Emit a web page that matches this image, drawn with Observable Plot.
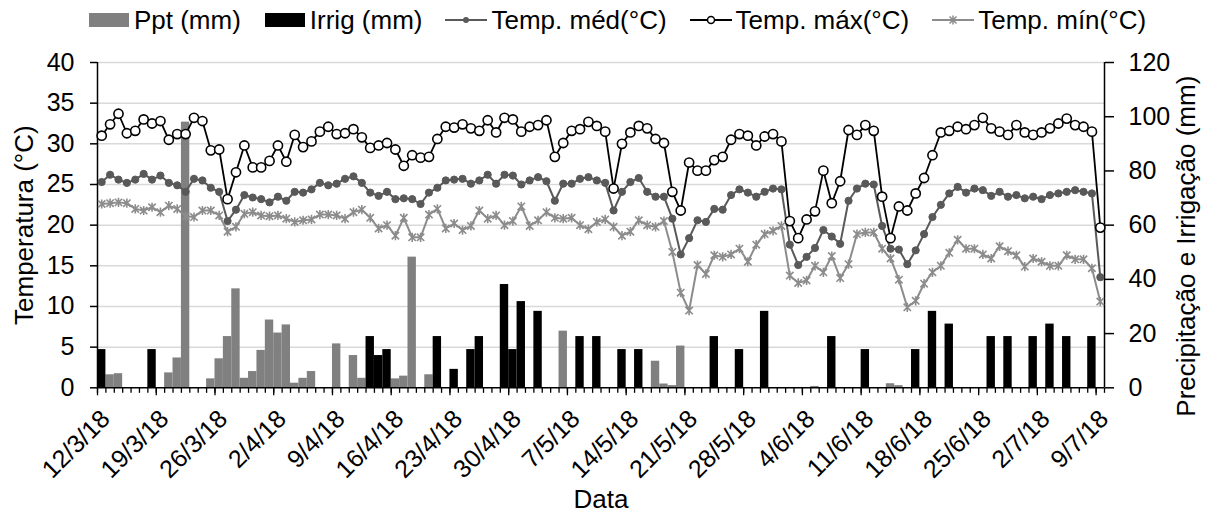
<!DOCTYPE html>
<html><head><meta charset="utf-8">
<script src="https://cdn.jsdelivr.net/npm/d3@7"></script>
<script src="https://cdn.jsdelivr.net/npm/@observablehq/plot@0.6"></script>
<style>
body{margin:0;background:#fff;font-family:"Liberation Sans",Arial,sans-serif;}
#legend{height:40px;display:flex;justify-content:center;align-items:center;gap:22px;font-size:26px;color:#000;width:1205px;padding-left:14px;}
.item{display:flex;align-items:center;gap:3px;white-space:nowrap;}
</style></head><body>
<div id="legend"></div>
<div id="chart"></div>
<script>
const tickLabels = ["12/3/18","19/3/18","26/3/18","2/4/18","9/4/18","16/4/18","23/4/18","30/4/18","7/5/18","14/5/18","21/5/18","28/5/18","4/6/18","11/6/18","18/6/18","25/6/18","2/7/18","9/7/18"];

const tmax = [31.0,32.4,33.7,31.3,31.6,33.0,32.5,32.8,30.5,31.2,
31.2,33.2,32.8,29.2,29.3,23.2,26.5,29.8,27.1,27.1,
27.9,29.8,27.8,31.1,29.6,30.3,31.5,32.1,31.2,31.3,
31.8,30.8,29.5,29.8,30.1,29.3,27.3,28.6,28.3,28.4,
30.6,32.1,32.0,32.4,31.9,31.6,32.9,31.4,33.2,33.0,
31.5,32.1,32.3,32.9,28.4,30.1,31.6,31.8,32.7,32.2,
31.5,24.5,30.0,31.4,32.2,31.9,30.6,30.1,24.1,21.8,
27.7,26.7,26.7,28.0,28.4,30.5,31.2,31.0,29.8,30.9,
31.2,30.3,20.5,18.4,20.7,21.7,26.7,22.7,25.4,31.7,
31.1,32.3,31.6,23.5,18.4,22.3,21.8,23.9,25.8,28.6,
31.4,31.6,32.1,31.8,32.3,33.2,31.9,31.5,31.1,32.3,
31.4,31.1,31.4,31.9,32.5,33.1,32.3,32.1,31.5,19.7];

const tmed = [25.3,26.2,25.6,25.2,25.6,26.3,25.6,26.1,25.2,24.9,
24.1,25.7,25.5,24.6,24.1,20.5,21.9,23.7,23.4,23.2,
22.8,23.5,23.0,24.1,24.0,24.4,25.2,24.9,25.1,25.7,
26.0,25.2,24.0,23.6,24.1,23.2,23.3,23.2,22.6,24.0,
24.6,25.5,25.6,25.7,25.1,25.5,26.2,25.1,26.2,26.1,
25.0,25.5,25.9,25.4,23.0,25.1,25.1,25.7,25.9,25.5,
25.2,21.8,24.1,25.3,25.8,24.1,23.5,23.5,20.8,16.4,
18.4,20.6,20.4,22.0,21.9,23.7,24.4,24.0,23.5,24.1,
24.5,24.4,17.6,15.1,16.1,17.2,19.4,18.6,17.7,23.0,
24.5,25.1,25.0,19.9,17.1,17.0,15.2,16.9,18.9,21.0,
22.5,23.9,24.7,24.0,24.5,24.3,23.6,24.1,23.5,23.7,
23.3,23.5,23.2,23.7,23.9,24.1,24.3,24.1,23.9,13.6];

const tmin = [22.6,22.7,22.8,22.7,22.0,21.8,22.2,21.6,22.4,22.0,
21.1,21.0,21.8,21.8,21.2,19.2,19.8,21.4,21.6,21.2,
21.1,21.2,20.8,20.4,20.6,20.7,21.3,21.3,21.2,20.8,
21.6,21.9,20.9,19.6,20.0,18.7,20.9,18.5,18.5,21.3,
22.0,19.6,20.2,19.4,19.9,21.8,20.8,21.2,20.0,20.5,
22.3,19.9,20.6,21.6,20.9,20.8,20.9,20.0,19.5,20.4,
20.7,19.8,18.7,19.2,20.6,20.0,19.8,20.5,16.7,11.7,
9.5,15.1,14.0,16.3,16.1,16.4,17.1,15.5,17.6,18.9,
19.3,19.9,13.8,12.9,13.2,15.0,14.2,16.2,13.5,15.2,
18.9,19.1,19.1,17.1,15.9,13.3,9.9,10.7,12.8,14.2,
15.0,16.6,18.2,17.1,17.1,16.4,15.9,17.4,16.8,16.3,
14.9,15.9,15.5,15.0,15.0,16.3,15.8,15.8,14.7,10.6];

const ppt = [0,4.8,5.2,0,0,0,0,0,5.5,11.0,
98,0,0,3.3,10.7,18.9,36.5,3.5,6.0,13.8,
25.0,20.2,23.2,1.7,3.5,6.0,0,0,16.2,0,
11.9,3.5,0,0,0,3.3,4.3,48.2,0,4.8,
0,0,0,0,0,0,0,0,0,0,
0,0,0,0,0,20.9,0,0,0,0,
0,0,0,0,0,0,9.8,1.4,0.8,15.4,
0,0,0,0,0,0,0,0,0,0,
0,0,0,0,0,0.5,0,0,0,0,
0,0,0,0,1.5,0.8,0,0,0,0,
0,0,0,0,0,0,0,0,0,0,
0,0,0,0,0,0,0,0,0,0];

const irrig = [14.1,0,0,0,0,0,14.1,0,0,0,
0,0,0,0,0,0,0,0,0,0,
0,0,0,0,0,0,0,0,0,0,
0,0,18.9,11.9,14.1,0,0,0,0,0,
18.9,0,6.8,0,14.1,18.9,0,0,38.1,14.1,
31.8,0,28.2,0,0,0,0,18.9,0,18.9,
0,0,14.1,0,14.1,0,0,0,0,0,
0,0,0,18.9,0,0,14.1,0,0,28.2,
0,0,0,0,0,0,0,18.9,0,0,
0,14.1,0,0,0,0,0,14.1,0,28.2,
0,23.5,0,0,0,0,18.9,0,18.9,0,
0,18.9,0,23.5,0,18.9,0,0,18.9,0];

const S = 3; // 120 mm on the right axis = 40 °C on the left
const days = d3.range(tmax.length).map(i => ({i, tmax: tmax[i], tmed: tmed[i], tmin: tmin[i], ppt: ppt[i], irrig: irrig[i]}));

const C_PPT = "#808080", C_IRR = "#000000", C_MED = "#595959", C_MAX = "#000000", C_MIN = "#8c8c8c";

const star = {draw(ctx, size) {
  const r = Math.sqrt(size / Math.PI), a = r * 0.8;
  ctx.moveTo(-a, -a); ctx.lineTo(a, a);
  ctx.moveTo(-a, a); ctx.lineTo(a, -a);
  ctx.moveTo(0, -r); ctx.lineTo(0, r);
}};

const FONT = "Liberation Sans, Arial, sans-serif";

const chart = Plot.plot({
  width: 1219, height: 475,
  marginLeft: 97, marginRight: 115, marginTop: 22, marginBottom: 127.7,
  x: {type: "linear", domain: [-0.5, 119.5]},
  y: {domain: [0, 40]},
  style: {fontFamily: FONT, fontSize: "25px", color: "#000", background: "#fff", overflow: "visible"},
  marks: [
    Plot.ruleY(d3.range(5, 41, 5), {stroke: "#d9d9d9", strokeWidth: 1.5}),
    Plot.rectY(days.filter(d => d.ppt > 0), {x1: d => d.i - 0.5, x2: d => d.i + 0.5, y: d => d.ppt / S, fill: C_PPT}),
    Plot.rectY(days.filter(d => d.irrig > 0), {x1: d => d.i - 0.5, x2: d => d.i + 0.5, y: d => d.irrig / S, fill: C_IRR}),
    Plot.ruleY([0], {stroke: "#000", strokeWidth: 1.5}),
    Plot.ruleX([-0.5, 119.5], {y1: 0, y2: 40, stroke: "#000", strokeWidth: 1.5}),
    Plot.ruleX(d3.range(121).map(k => k - 0.5), {y1: 0, y2: -0.68, stroke: "#000", strokeWidth: 1.3}),
    Plot.ruleX(d3.range(18).map(k => 7 * k - 0.5), {y1: 0, y2: -0.98, stroke: "#000", strokeWidth: 1.3}),
    Plot.axisY({anchor: "left", ticks: d3.range(0, 41, 5), tickSize: 7, tickPadding: 16, strokeWidth: 1.5, fontSize: 25, label: null}),
    Plot.axisY({anchor: "right", ticks: d3.range(0, 121, 20).map(v => v / S), tickFormat: v => Math.round(v * S), tickSize: 9, tickPadding: 15, strokeWidth: 1.5, fontSize: 25, label: null}),
    Plot.axisX({ticks: d3.range(18).map(k => 7 * k), tickFormat: v => tickLabels[Math.round(v / 7)], tickSize: 0, tickRotate: -45, tickPadding: 27, dx: 4, textAnchor: "end", lineAnchor: "middle", fontSize: 25, label: null}),
    Plot.line(days, {x: "i", y: "tmed", stroke: C_MED, strokeWidth: 2}),
    Plot.dot(days, {x: "i", y: "tmed", r: 3.6, fill: C_MED, stroke: C_MED, strokeWidth: 1}),
    Plot.line(days, {x: "i", y: "tmax", stroke: C_MAX, strokeWidth: 1.8}),
    Plot.dot(days, {x: "i", y: "tmax", r: 4.6, fill: "#fff", stroke: C_MAX, strokeWidth: 1.6}),
    Plot.line(days, {x: "i", y: "tmin", stroke: C_MIN, strokeWidth: 2}),
    Plot.dot(days, {x: "i", y: "tmin", r: 4.6, symbol: star, fill: "none", stroke: C_MIN, strokeWidth: 1.6}),
    Plot.text(["Data"], {frameAnchor: "bottom", dy: 112, textAnchor: "middle", lineAnchor: "middle", fontSize: 26}),
    Plot.text(["Temperatura (°C)"], {frameAnchor: "left", dx: -73, rotate: -90, textAnchor: "middle", lineAnchor: "middle", fontSize: 26}),
    Plot.text(["Precipitação e Irrigação (mm)"], {frameAnchor: "right", dx: 82, dy: 21, rotate: -90, textAnchor: "middle", lineAnchor: "middle", fontSize: 26})
  ]
});
document.getElementById("chart").appendChild(chart);

// legend
const legendItems = [
  {label: "Ppt (mm)", type: "bar", color: C_PPT},
  {label: "Irrig (mm)", type: "bar", color: C_IRR},
  {label: "Temp. méd(°C)", type: "line", color: C_MED, marker: "dot"},
  {label: "Temp. máx(°C)", type: "line", color: C_MAX, marker: "open"},
  {label: "Temp. mín(°C)", type: "line", color: C_MIN, marker: "star"}
];
const legend = d3.select("#legend");
for (const it of legendItems) {
  const item = legend.append("div").attr("class", "item");
  const svg = item.append("svg").attr("width", 44).attr("height", 20);
  if (it.type === "bar") {
    svg.append("rect").attr("x", 2).attr("y", 3).attr("width", 40).attr("height", 14).attr("fill", it.color);
  } else {
    svg.append("line").attr("x1", 1).attr("x2", 43).attr("y1", 10).attr("y2", 10).attr("stroke", it.color).attr("stroke-width", 2);
    if (it.marker === "dot") svg.append("circle").attr("cx", 22).attr("cy", 10).attr("r", 3).attr("fill", it.color);
    if (it.marker === "open") svg.append("circle").attr("cx", 22).attr("cy", 10).attr("r", 3.5).attr("fill", "#fff").attr("stroke", it.color).attr("stroke-width", 1.5);
    if (it.marker === "star") svg.append("path").attr("d", "M18.5,6.5L25.5,13.5M18.5,13.5L25.5,6.5M22,5.5L22,14.5").attr("stroke", it.color).attr("stroke-width", 1.5).attr("fill", "none");
  }
  item.append("span").text(it.label);
}
</script>
</body></html>
